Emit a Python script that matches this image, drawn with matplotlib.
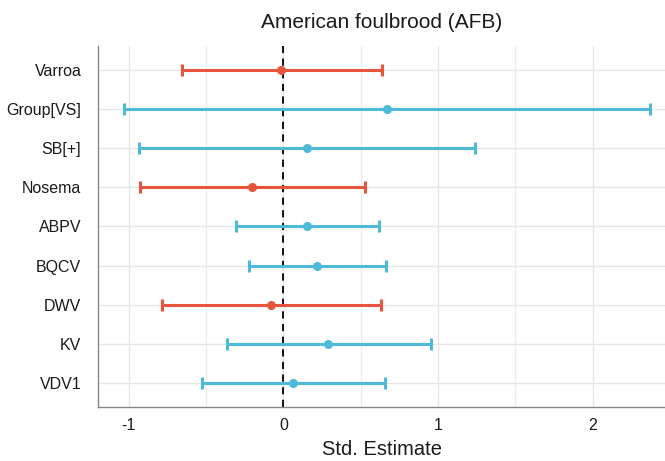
import matplotlib
matplotlib.use("Agg")
import matplotlib.pyplot as plt
import numpy as np

plt.rcParams['font.family'] = ['Liberation Sans', 'DejaVu Sans']

terms = ["Varroa", "Group[VS]", "SB[+]", "Nosema", "ABPV", "BQCV", "DWV", "KV", "VDV1"]
estimates = [-0.015, 0.670, 0.151, -0.202, 0.155, 0.220, -0.082, 0.289, 0.065]
ci_low = [-0.657, -1.028, -0.933, -0.926, -0.306, -0.222, -0.786, -0.364, -0.524]
ci_high = [0.640, 2.370, 1.241, 0.530, 0.621, 0.666, 0.629, 0.953, 0.659]

red = '#e8553f'
blue = '#4fb9d9'

fig = plt.figure(figsize=(6.65, 4.61), dpi=100)
ax = fig.add_axes([98/665, 1-406.7/461, (665-98)/665, (406.7-46)/461])

n = len(terms)
ypos = np.arange(n, 0, -1)

ax.set_xlim(-1.198, 2.467)
ax.set_ylim(0.4, n + 0.6)

ax.set_xticks([-1, 0, 1, 2])
ax.set_xticklabels(['-1', '0', '1', '2'])
ax.set_xticks([-0.5, 0.5, 1.5], minor=True)
ax.set_yticks(ypos)
ax.set_yticklabels(terms)

ax.grid(True, which='major', color='#e6e6e6', linewidth=1.0)
ax.grid(True, which='minor', axis='x', color='#ededed', linewidth=1.0)
ax.set_axisbelow(True)

ax.axvline(0, color='black', linestyle=(0, (4, 3)), linewidth=1.3, zorder=2)

for y, e, lo, hi in zip(ypos, estimates, ci_low, ci_high):
    c = red if e < 0 else blue
    ax.errorbar([e], [y], xerr=[[e - lo], [hi - e]], fmt='o', color=c,
                ecolor=c, elinewidth=2.2, capsize=4, capthick=2.2,
                markersize=5.5, zorder=3)

for s in ['top', 'right']:
    ax.spines[s].set_visible(False)
for s in ['left', 'bottom']:
    ax.spines[s].set_color('#888888')
    ax.spines[s].set_linewidth(1.0)

ax.tick_params(axis='both', which='both', length=0)
ax.tick_params(axis='y', labelsize=11.5, pad=12, labelcolor='#1a1a1a')
ax.tick_params(axis='x', labelsize=11.5, pad=8, labelcolor='#1a1a1a')

ax.set_xlabel('Std. Estimate', fontsize=14.5, labelpad=5, color='#1a1a1a')
ax.set_title('American foulbrood (AFB)', fontsize=15, pad=13, color='#1a1a1a')

fig.savefig('out.png', dpi=100)
